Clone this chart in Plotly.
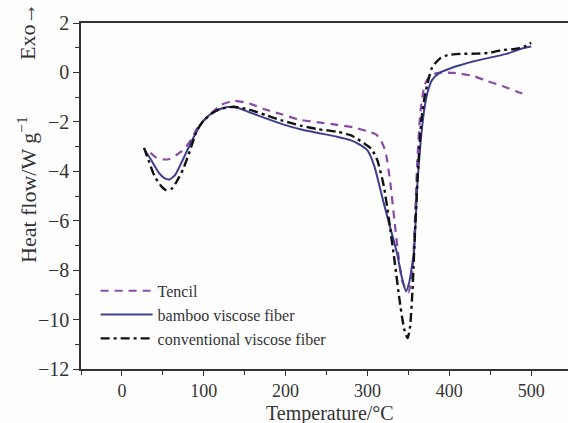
import plotly.graph_objects as go

# ---- data ----
tencil_T = [35, 42, 50, 58, 66, 76, 85, 92, 100, 109, 121, 137, 155, 175, 194, 218, 240, 263, 283, 300,
            310, 316, 322, 328, 333, 337, 343, 350, 355, 358, 361, 365, 370, 376, 385, 395, 405, 414, 430,
            446, 465, 483, 495]
tencil_y = [-3.25, -3.45, -3.52, -3.5, -3.35, -3.1, -2.7, -2.25, -1.95, -1.66, -1.32, -1.15, -1.25, -1.5,
            -1.68, -1.92, -2.02, -2.12, -2.22, -2.38, -2.5, -2.72, -3.2, -4.5, -6.0, -7.2, -8.5, -8.9,
            -8.0, -6.0, -3.5, -1.5, -0.5, -0.15, -0.03, 0.0, -0.02, -0.05, -0.15, -0.35, -0.55, -0.78, -0.92]

bamboo_T = [28, 35, 45, 52, 58, 65, 72, 80, 88, 96, 104, 112, 120, 129, 140, 155, 175, 194, 218, 240,
            263, 280, 292, 300, 308, 314, 320, 328, 336, 342, 347, 351, 354, 357, 361, 365, 369, 373,
            379, 389, 400, 414, 430, 454, 470, 487, 500]
bamboo_y = [-3.15, -3.5, -4.05, -4.28, -4.33, -4.15, -3.7, -3.14, -2.6, -2.1, -1.8, -1.62, -1.48, -1.4,
            -1.42, -1.6, -1.85, -2.07, -2.3, -2.45, -2.6, -2.75, -2.95, -3.15, -3.75, -4.5, -5.3, -6.3,
            -7.3, -8.3, -8.86, -8.5, -7.9, -7.2, -4.5, -2.8, -1.6, -0.85, -0.3, 0.0, 0.15, 0.3, 0.45,
            0.63, 0.75, 0.95, 1.05]

conv_T = [27, 33, 40, 48, 54, 61, 68, 75, 82, 92, 100, 110, 120, 137, 155, 175, 194, 218, 240, 263, 280,
          296, 305, 312, 320, 326, 333, 340, 345, 349, 352, 355, 358, 362, 366, 370, 373, 379, 388, 398,
          414, 434, 450, 463, 480, 492, 500]
conv_y = [-3.05, -3.6, -4.2, -4.6, -4.76, -4.7, -4.35, -3.9, -3.27, -2.33, -1.95, -1.65, -1.48, -1.39,
          -1.5, -1.72, -1.93, -2.15, -2.3, -2.4, -2.55, -2.87, -3.1, -3.55, -4.6, -5.9, -7.6, -9.4,
          -10.4, -10.75, -10.3, -8.8, -6.5, -3.8, -1.9, -0.95, -0.5, 0.2, 0.55, 0.7, 0.75, 0.76, 0.8,
          0.9, 0.95, 1.05, 1.2]

series_names = ["Tencil", "bamboo viscose fiber", "conventional viscose fiber"]
x_ticks = [0, 100, 200, 300, 400, 500]
y_ticks = [2, 0, -2, -4, -6, -8, -10, -12]

SERIF = "Liberation Serif, Times New Roman, serif"
INK = "#333333"
BG = "#fefefe"

W, H = 568, 423
ML, MR, MT, MB = 81, 0, 23, 54

fig = go.Figure()
fig.add_trace(go.Scatter(x=tencil_T, y=tencil_y, mode="lines", name=series_names[0],
                         line=dict(color="#8a4aa6", width=2.2, dash="8px,6px", shape="spline", smoothing=0.6)))
fig.add_trace(go.Scatter(x=bamboo_T, y=bamboo_y, mode="lines", name=series_names[1],
                         line=dict(color="#3e3e8e", width=2.0, shape="spline", smoothing=0.6)))
fig.add_trace(go.Scatter(x=conv_T, y=conv_y, mode="lines", name=series_names[2],
                         line=dict(color="#111111", width=2.4, dash="9px,4px,3px,4px", shape="spline", smoothing=0.6)))

fig.update_layout(
    width=W, height=H,
    margin=dict(l=ML, r=MR, t=MT, b=MB, autoexpand=False),
    paper_bgcolor=BG, plot_bgcolor=BG,
    font=dict(family=SERIF, color=INK),
    showlegend=True,
    legend=dict(x=0.03, y=0.275, xanchor="left", yanchor="top",
                bgcolor="rgba(0,0,0,0)", font=dict(size=16, family=SERIF, color=INK),
                itemwidth=52, tracegroupgap=0),
    xaxis=dict(range=[-50, 545], tickvals=x_ticks, ticks="outside", ticklen=5, tickwidth=1.2,
               tickcolor=INK, showline=True, linecolor=INK, linewidth=1.6, mirror=True,
               showgrid=False, zeroline=False, tickfont=dict(size=18, family=SERIF, color=INK),
               minor=dict(dtick=50, tick0=0, ticks="outside", ticklen=4, tickcolor=INK, showgrid=False)),
    yaxis=dict(range=[-12, 2], tickvals=y_ticks, ticktext=[str(v).replace("-", "\u2212") for v in y_ticks],
               ticks="outside", ticklen=6, tickwidth=1.2, tickcolor=INK,
               showline=True, linecolor=INK, linewidth=1.6, mirror=False,
               showgrid=False, zeroline=False, tickfont=dict(size=20, family=SERIF, color=INK),
               minor=dict(dtick=1, tick0=0, ticks="outside", ticklen=4, tickcolor=INK, showgrid=False)),
)

pw, ph = W - ML - MR, H - MT - MB


def to_paper(px, py):
    return (px - ML) / pw, (H - MB - py) / ph


tx, ty = to_paper(330, 413)
fig.add_annotation(text="Temperature/°C", x=tx, y=ty, xanchor="center", yanchor="middle",
                   xref="paper", yref="paper", showarrow=False,
                   font=dict(size=20, family=SERIF, color=INK))
ax, ay = to_paper(27, 190)
fig.add_annotation(text="Heat flow/W g<sup>\u22121</sup>", textangle=-90, x=ax, y=ay,
                   xanchor="center", yanchor="middle",
                   xref="paper", yref="paper", showarrow=False,
                   font=dict(size=22, family=SERIF, color=INK))
ex, ey = to_paper(27, 32)
fig.add_annotation(text="Exo\u2192", textangle=-90, x=ex, y=ey,
                   xanchor="center", yanchor="middle",
                   xref="paper", yref="paper", showarrow=False,
                   font=dict(size=22, family=SERIF, color=INK))

fig.write_html("out.html", config={"displayModeBar": False})
